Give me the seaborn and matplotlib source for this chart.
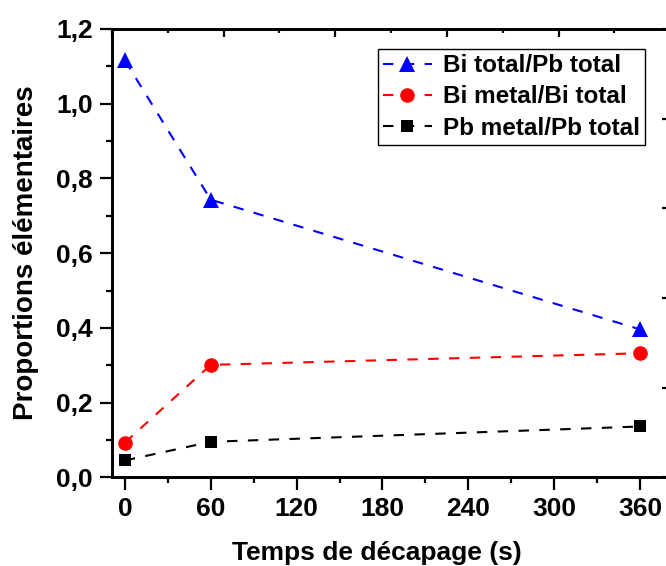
from matplotlib import pyplot as plt
from matplotlib.ticker import MultipleLocator, FuncFormatter
import numpy as np
import seaborn as sns
import pandas as pd

# data
temps = [0, 60, 360]
bi_pb_total = [1.116, 0.743, 0.396]
bi_metal = [0.093, 0.301, 0.332]
pb_metal = [0.045, 0.095, 0.136]

x_ticks = [0, 60, 120, 180, 240, 300, 360]
y_ticks = [0.0, 0.2, 0.4, 0.6, 0.8, 1.0, 1.2]

sns.set_style("ticks")
plt.rcParams['font.family'] = ['Liberation Sans', 'DejaVu Sans']
plt.rcParams['font.weight'] = 'bold'
plt.rcParams['axes.labelweight'] = 'bold'
for k in ['text.color', 'axes.labelcolor', 'xtick.color', 'ytick.color', 'axes.edgecolor']:
    plt.rcParams[k] = 'black'

fig = plt.figure(figsize=(6.66, 5.66), dpi=100)
# right spine sits just outside the picture, like the original crop
ax = fig.add_axes([0.1682, 0.1567, 0.838, 0.7921])

sns.lineplot(x=temps, y=bi_pb_total, ax=ax, color='blue', linestyle='--', lw=1.5,
             marker='^', markersize=11, markeredgewidth=0, label='Bi total/Pb total')
sns.lineplot(x=temps, y=bi_metal, ax=ax, color='red', linestyle='--', lw=1.5,
             marker='o', markersize=10.5, markeredgewidth=0, label='Bi metal/Bi total')
sns.lineplot(x=temps, y=pb_metal, ax=ax, color='black', linestyle='--', lw=1.5,
             marker='s', markersize=8.5, markeredgewidth=0, label='Pb metal/Pb total')

for line in ax.get_lines():
    line.set_dashes([5, 5])

ax.set_xlim(-9, 381)
ax.set_ylim(0, 1.2)
ax.set_xticks(x_ticks)
ax.set_yticks(y_ticks)
ax.xaxis.set_minor_locator(MultipleLocator(30))
ax.yaxis.set_minor_locator(MultipleLocator(0.1))
ax.yaxis.set_major_formatter(FuncFormatter(lambda v, p: f"{v:.1f}".replace('.', ',')))
ax.tick_params(which='major', direction='out', length=9, width=1.6, labelsize=19, pad=5)
ax.tick_params(which='minor', direction='out', length=4.5, width=1.6)
for s in ax.spines.values():
    s.set_linewidth(1.8)

ax.set_xlabel('Temps de décapage (s)', fontsize=19)
ax.set_ylabel('Proportions élémentaires', fontsize=20)
ax.xaxis.set_label_coords(0.475, -0.143)
ax.yaxis.set_label_coords(-0.131, 0.5)

leg = ax.legend(loc='upper right', bbox_to_anchor=(0.955, 0.956), borderaxespad=0,
                fontsize=17.5, frameon=True, fancybox=False, framealpha=1,
                edgecolor='black', handlelength=2.0, labelspacing=0.34,
                borderpad=0.22, handletextpad=0.45)
leg.get_frame().set_linewidth(1.0)

# extra inward ticks on the top and right sides
axr = ax.twinx()
axr.set_ylim(0, 5)
axr.yaxis.set_major_locator(MultipleLocator(1))
axr.yaxis.set_minor_locator(MultipleLocator(0.5))
axr.tick_params(which='major', direction='in', length=6, width=1.6, labelright=False)
axr.tick_params(which='minor', direction='in', length=3, width=1.6)
axt = ax.twiny()
axt.set_xlim(0, 5)
axt.xaxis.set_major_locator(MultipleLocator(1))
axt.xaxis.set_minor_locator(MultipleLocator(0.5))
axt.tick_params(which='major', direction='in', length=6, width=1.6, labeltop=False)
axt.tick_params(which='minor', direction='in', length=3, width=1.6)
for a in (axr, axt):
    for s in a.spines.values():
        s.set_linewidth(1.8)

plt.savefig('out.png', dpi=100)
